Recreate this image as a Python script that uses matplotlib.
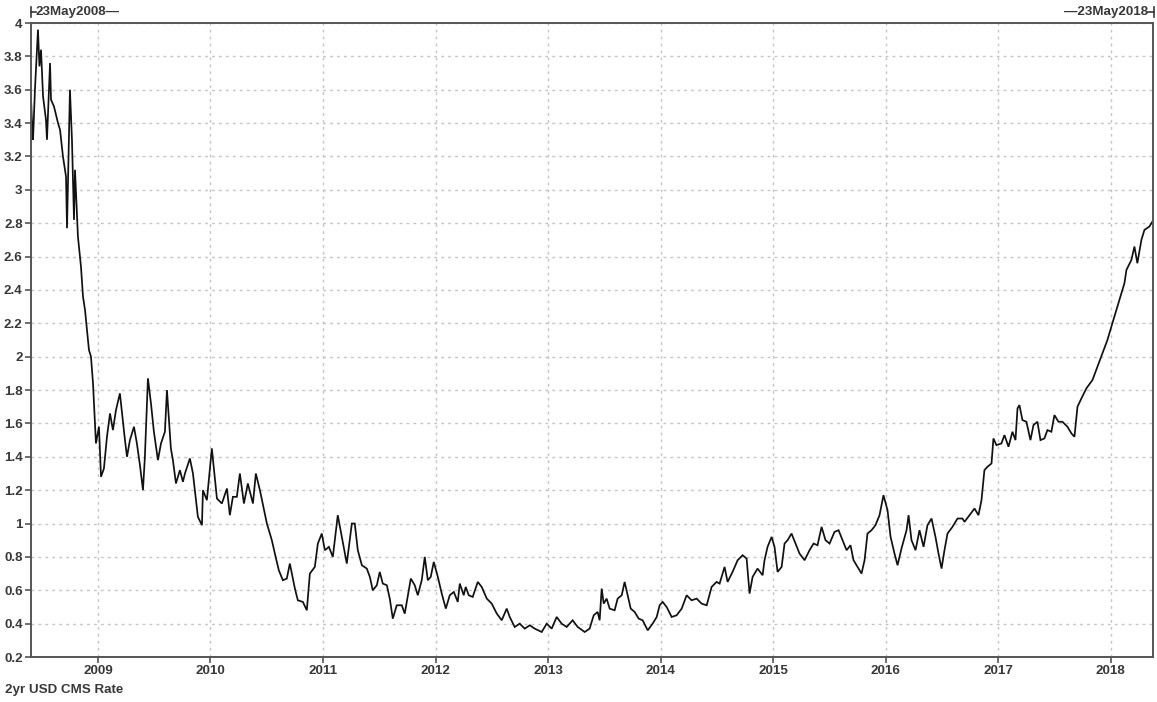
import matplotlib
matplotlib.use("Agg")
import matplotlib.pyplot as plt
from matplotlib.lines import Line2D
from matplotlib.ticker import FormatStrFormatter, MultipleLocator
import numpy as np

# 2yr USD CMS rate (decimal year, rate in %)
years_2008_2009 = [
    2008.405, 2008.414, 2008.423, 2008.440, 2008.467, 2008.480, 2008.494, 2008.512,
    2008.538, 2008.547, 2008.574, 2008.583, 2008.609, 2008.645, 2008.663, 2008.689,
    2008.716, 2008.725, 2008.751, 2008.769, 2008.787, 2008.796, 2008.822, 2008.849,
    2008.867, 2008.885, 2008.920, 2008.938, 2008.956, 2008.982, 2009.009, 2009.027,
    2009.053, 2009.080, 2009.107, 2009.133, 2009.160, 2009.195, 2009.240, 2009.258,
    2009.284, 2009.320, 2009.346, 2009.373, 2009.400, 2009.417, 2009.444, 2009.471,
    2009.497, 2009.533, 2009.560, 2009.595, 2009.613, 2009.648, 2009.666, 2009.693,
    2009.728, 2009.755, 2009.773, 2009.817, 2009.844, 2009.888, 2009.924, 2009.933,
    2009.968,
]
rates_2008_2009 = [
    3.55, 3.40, 3.30, 3.60, 3.96, 3.74, 3.84, 3.56,
    3.42, 3.30, 3.76, 3.54, 3.50, 3.40, 3.36, 3.20,
    3.08, 2.77, 3.60, 3.30, 2.82, 3.12, 2.72, 2.54,
    2.36, 2.28, 2.04, 2.00, 1.84, 1.48, 1.58, 1.28,
    1.33, 1.52, 1.66, 1.56, 1.68, 1.78, 1.50, 1.40,
    1.50, 1.58, 1.48, 1.35, 1.20, 1.40, 1.87, 1.72,
    1.55, 1.38, 1.48, 1.55, 1.80, 1.45, 1.38, 1.24,
    1.32, 1.25, 1.30, 1.39, 1.30, 1.04, 0.99, 1.20,
    1.14,
]

years_2010_2012 = [
    2010.012, 2010.057, 2010.101, 2010.146, 2010.172, 2010.199, 2010.234, 2010.261,
    2010.297, 2010.332, 2010.377, 2010.403, 2010.439, 2010.501, 2010.545, 2010.572,
    2010.607, 2010.643, 2010.678, 2010.705, 2010.750, 2010.776, 2010.821, 2010.856,
    2010.883, 2010.927, 2010.954, 2010.989, 2011.016, 2011.052, 2011.087, 2011.131,
    2011.167, 2011.211, 2011.256, 2011.282, 2011.309, 2011.345, 2011.389, 2011.416,
    2011.442, 2011.478, 2011.504, 2011.531, 2011.567, 2011.593, 2011.620, 2011.655,
    2011.700, 2011.726, 2011.744, 2011.780, 2011.815, 2011.842, 2011.877, 2011.904,
    2011.931, 2011.957, 2011.984, 2012.020, 2012.055, 2012.091, 2012.126, 2012.162,
    2012.197, 2012.215, 2012.250, 2012.268, 2012.295, 2012.330, 2012.375, 2012.410,
    2012.455, 2012.499, 2012.544, 2012.588, 2012.632, 2012.659, 2012.703, 2012.748,
    2012.792, 2012.837, 2012.881, 2012.943, 2012.988,
]
rates_2010_2012 = [
    1.45, 1.15, 1.12, 1.21, 1.05, 1.16, 1.16, 1.30,
    1.12, 1.24, 1.12, 1.30, 1.20, 1.00, 0.90, 0.82,
    0.72, 0.66, 0.67, 0.76, 0.61, 0.54, 0.53, 0.48,
    0.70, 0.74, 0.88, 0.94, 0.84, 0.86, 0.80, 1.05,
    0.92, 0.76, 1.00, 1.00, 0.84, 0.75, 0.73, 0.68,
    0.60, 0.63, 0.71, 0.64, 0.63, 0.55, 0.43, 0.51,
    0.51, 0.46, 0.53, 0.67, 0.63, 0.57, 0.66, 0.80,
    0.66, 0.68, 0.77, 0.68, 0.58, 0.49, 0.57, 0.59,
    0.53, 0.64, 0.57, 0.62, 0.57, 0.56, 0.65, 0.62,
    0.55, 0.52, 0.46, 0.42, 0.49, 0.44, 0.38, 0.40,
    0.37, 0.39, 0.37, 0.35, 0.40,
]

years_2013_2014 = [
    2013.032, 2013.076, 2013.120, 2013.165, 2013.218, 2013.263, 2013.325, 2013.369,
    2013.405, 2013.440, 2013.458, 2013.476, 2013.494, 2013.520, 2013.547, 2013.591,
    2013.618, 2013.654, 2013.680, 2013.707, 2013.734, 2013.769, 2013.805, 2013.840,
    2013.885, 2013.929, 2013.965, 2013.991, 2014.018, 2014.053, 2014.098, 2014.142,
    2014.187, 2014.231, 2014.275, 2014.320, 2014.364, 2014.409, 2014.453, 2014.497,
    2014.524, 2014.568, 2014.595, 2014.639, 2014.684, 2014.728, 2014.764, 2014.790,
    2014.817, 2014.861, 2014.906, 2014.923, 2014.950, 2014.986,
]
rates_2013_2014 = [
    0.37, 0.44, 0.40, 0.38, 0.42, 0.38, 0.35, 0.37,
    0.45, 0.47, 0.42, 0.61, 0.52, 0.55, 0.49, 0.48,
    0.55, 0.57, 0.65, 0.57, 0.49, 0.47, 0.43, 0.42,
    0.36, 0.40, 0.44, 0.51, 0.53, 0.50, 0.44, 0.45,
    0.49, 0.57, 0.54, 0.55, 0.52, 0.51, 0.62, 0.65,
    0.64, 0.74, 0.65, 0.71, 0.78, 0.81, 0.79, 0.58,
    0.68, 0.73, 0.69, 0.78, 0.86, 0.92,
]

years_2015_2016 = [
    2015.012, 2015.039, 2015.075, 2015.101, 2015.128, 2015.163, 2015.199, 2015.234,
    2015.279, 2015.323, 2015.359, 2015.394, 2015.430, 2015.465, 2015.501, 2015.545,
    2015.581, 2015.616, 2015.652, 2015.687, 2015.714, 2015.750, 2015.785, 2015.812,
    2015.838, 2015.874, 2015.909, 2015.945, 2015.980, 2016.016, 2016.043, 2016.078,
    2016.105, 2016.140, 2016.185, 2016.203, 2016.229, 2016.265, 2016.300, 2016.336,
    2016.371, 2016.407, 2016.442, 2016.469, 2016.496, 2016.522, 2016.549, 2016.593,
    2016.638, 2016.682, 2016.700, 2016.744, 2016.789, 2016.824, 2016.851, 2016.877,
    2016.904, 2016.940, 2016.957, 2016.984,
]
rates_2015_2016 = [
    0.86, 0.71, 0.74, 0.88, 0.90, 0.94, 0.88, 0.82,
    0.78, 0.84, 0.88, 0.87, 0.98, 0.90, 0.88, 0.95,
    0.96, 0.90, 0.84, 0.87, 0.78, 0.74, 0.70, 0.78,
    0.94, 0.96, 0.99, 1.05, 1.17, 1.08, 0.92, 0.82,
    0.75, 0.85, 0.96, 1.05, 0.90, 0.84, 0.96, 0.86,
    0.99, 1.03, 0.92, 0.82, 0.73, 0.84, 0.94, 0.98,
    1.03, 1.03, 1.01, 1.05, 1.09, 1.05, 1.14, 1.32,
    1.34, 1.36, 1.51, 1.47,
]

years_2017_2018 = [
    2017.028, 2017.055, 2017.091, 2017.126, 2017.153, 2017.171, 2017.188, 2017.215,
    2017.250, 2017.286, 2017.313, 2017.348, 2017.375, 2017.410, 2017.437, 2017.472,
    2017.499, 2017.535, 2017.570, 2017.615, 2017.650, 2017.677, 2017.704, 2017.739,
    2017.783, 2017.837, 2017.881, 2017.925, 2017.970, 2018.005, 2018.050, 2018.094,
    2018.121, 2018.139, 2018.183, 2018.210, 2018.236, 2018.272, 2018.299, 2018.343,
    2018.370,
]
rates_2017_2018 = [
    1.48, 1.53, 1.46, 1.55, 1.50, 1.69, 1.71, 1.62,
    1.61, 1.50, 1.59, 1.61, 1.50, 1.51, 1.56, 1.55,
    1.65, 1.61, 1.61, 1.58, 1.54, 1.52, 1.70, 1.75,
    1.81, 1.86, 1.94, 2.02, 2.10, 2.18, 2.28, 2.38,
    2.44, 2.52, 2.58, 2.66, 2.56, 2.70, 2.76, 2.78,
    2.81,
]

year_ticks = [2009, 2010, 2011, 2012, 2013, 2014, 2015, 2016, 2017, 2018]

years = years_2008_2009 + years_2010_2012 + years_2013_2014 + years_2015_2016 + years_2017_2018
rates = rates_2008_2009 + rates_2010_2012 + rates_2013_2014 + rates_2015_2016 + rates_2017_2018

W, H = 1157, 702
fig = plt.figure(figsize=(W / 100, H / 100), dpi=100)
ax = fig.add_axes([31 / W, 1 - 657 / H, (1153 - 31) / W, (657 - 23) / H])

ax.plot(years, rates, color="#111111", lw=1.25, solid_joinstyle="miter")

ax.set_xlim(2008.405, 2018.375)
ax.set_ylim(0.2, 4.0)
ax.set_xticks(year_ticks)
ax.yaxis.set_major_locator(MultipleLocator(0.2))
ax.yaxis.set_major_formatter(FormatStrFormatter("%g"))

ax.grid(True, color="#c4c4c4", linestyle=(0, (2, 3)), lw=1.0)
for s in ax.spines.values():
    s.set_color("#555555")
    s.set_linewidth(1.4)

fsize = 9.6
tick_font = dict(family="Liberation Sans", size=fsize, weight="bold")
ax.tick_params(axis="both", direction="out", length=4, width=1.2, color="#555555",
               labelcolor="#383838", pad=2)
for lab in ax.get_xticklabels() + ax.get_yticklabels():
    lab.set_fontfamily("Liberation Sans")
    lab.set_fontsize(fsize)
    lab.set_fontweight("bold")

# date range markers on top
lc = "#383838"
fy = 1 - 12 / H
fig.text(36 / W, fy, "23May2008\u2014", color=lc, ha="left", va="center", **tick_font)
fig.add_artist(Line2D([31 / W, 31 / W], [1 - 7 / H, 1 - 17 / H], color=lc, lw=1.2))
fig.add_artist(Line2D([31 / W, 36 / W], [fy, fy], color=lc, lw=1.2))
fig.text(1148 / W, fy, "\u201423May2018", color=lc, ha="right", va="center", **tick_font)
fig.add_artist(Line2D([1154 / W, 1154 / W], [1 - 7 / H, 1 - 17 / H], color=lc, lw=1.2))
fig.add_artist(Line2D([1148 / W, 1154 / W], [fy, fy], color=lc, lw=1.2))

fig.text(5 / W, 1 - 690 / H, "2yr USD CMS Rate", color=lc, ha="left", va="center", **tick_font)

fig.savefig("out.png", dpi=100)
